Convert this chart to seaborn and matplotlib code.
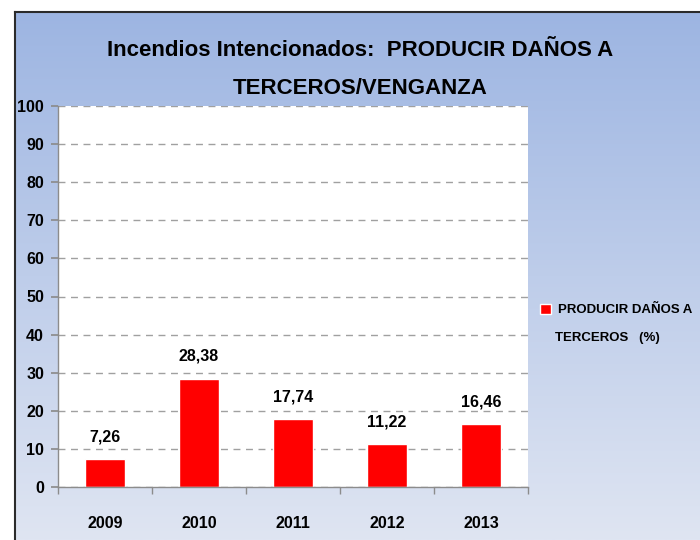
import numpy as np
import pandas as pd
import matplotlib
matplotlib.use("Agg")
import matplotlib.pyplot as plt
import seaborn as sns

years = ["2009", "2010", "2011", "2012", "2013"]
values = [7.26, 28.38, 17.74, 11.22, 16.46]
value_labels = ["7,26", "28,38", "17,74", "11,22", "16,46"]
y_ticks = [0, 10, 20, 30, 40, 50, 60, 70, 80, 90, 100]
title = "Incendios Intencionados:  PRODUCIR DAÑOS A\nTERCEROS/VENGANZA"
series_line1 = "PRODUCIR DAÑOS A"
series_line2 = "TERCEROS   (%)"

sns.set_theme(style="white")
plt.rcParams['font.family'] = ['Liberation Sans', 'DejaVu Sans']

df = pd.DataFrame({"year": years, "value": values})

fig = plt.figure(figsize=(7, 5.4), dpi=100)
fig.patch.set_facecolor("white")

# gradient background panel with dark border on left/top
bg = fig.add_axes([15 / 700, 0, 685 / 700, 528 / 540])
grad = np.linspace(0, 1, 256).reshape(-1, 1)
cmap = matplotlib.colors.LinearSegmentedColormap.from_list("bg", ["#9db5e2", "#dfe5f2"])
bg.imshow(grad, aspect="auto", cmap=cmap, extent=[0, 1, 0, 1], origin="upper")
bg.set_xticks([])
bg.set_yticks([])
for s in ["right", "bottom"]:
    bg.spines[s].set_visible(False)
for s in ["left", "top"]:
    bg.spines[s].set_color("#2b2b2b")
    bg.spines[s].set_linewidth(1.5)

ax = fig.add_axes([58 / 700, 53 / 540, 470 / 700, 381 / 540])
ax.set_facecolor("white")
sns.barplot(data=df, x="year", y="value", color="#ff0000", saturation=1,
            width=0.42, ax=ax, label=series_line1)
handles, labels = ax.get_legend_handles_labels()
if ax.get_legend() is not None:
    ax.get_legend().remove()

ax.set_ylim(0, 100)
ax.set_yticks(y_ticks)
ax.set_xlim(-0.5, len(years) - 0.5)
ax.yaxis.grid(True, linestyle=(0, (5, 4)), color="#a0a0a0", linewidth=1)
ax.set_axisbelow(True)
for s in ["top", "right"]:
    ax.spines[s].set_visible(False)
for s in ["left", "bottom"]:
    ax.spines[s].set_color("#8c8c8c")
    ax.spines[s].set_linewidth(1)

ax.set_xlabel("")
ax.set_ylabel("")
ax.tick_params(axis="y", which="major", left=True, length=5, color="#8c8c8c",
               labelsize=11.5, pad=5)
ax.tick_params(axis="x", which="major", bottom=False, labelsize=11.5, pad=15)
ax.set_xticks(np.arange(-0.5, len(years), 1), minor=True)
ax.tick_params(axis="x", which="minor", bottom=True, length=5, color="#8c8c8c")
for lbl in ax.get_xticklabels() + ax.get_yticklabels():
    lbl.set_fontweight("bold")
    lbl.set_color("black")

for i, (v, t) in enumerate(zip(values, value_labels)):
    ax.text(i, v + 4, t, ha="center", va="bottom", fontsize=11.5,
            fontweight="bold", color="black")

fig.text(0.515, 0.872, title, ha="center", va="center", fontsize=16,
         fontweight="bold", color="black", linespacing=2.05)

# legend: marker with first line, second line wraps underneath
leg = fig.legend(handles, labels, loc="center left", bbox_to_anchor=(0.771, 0.426),
                 frameon=False, handlelength=0.85, handleheight=0.85,
                 handletextpad=0.5, borderaxespad=0, borderpad=0,
                 prop={"weight": "bold", "size": 9.5})
for t in leg.get_texts():
    t.set_color("black")
fig.text(555 / 700, 0.374, series_line2, ha="left", va="center", fontsize=9.5,
         fontweight="bold", color="black")

fig.savefig("out.png", dpi=100)
